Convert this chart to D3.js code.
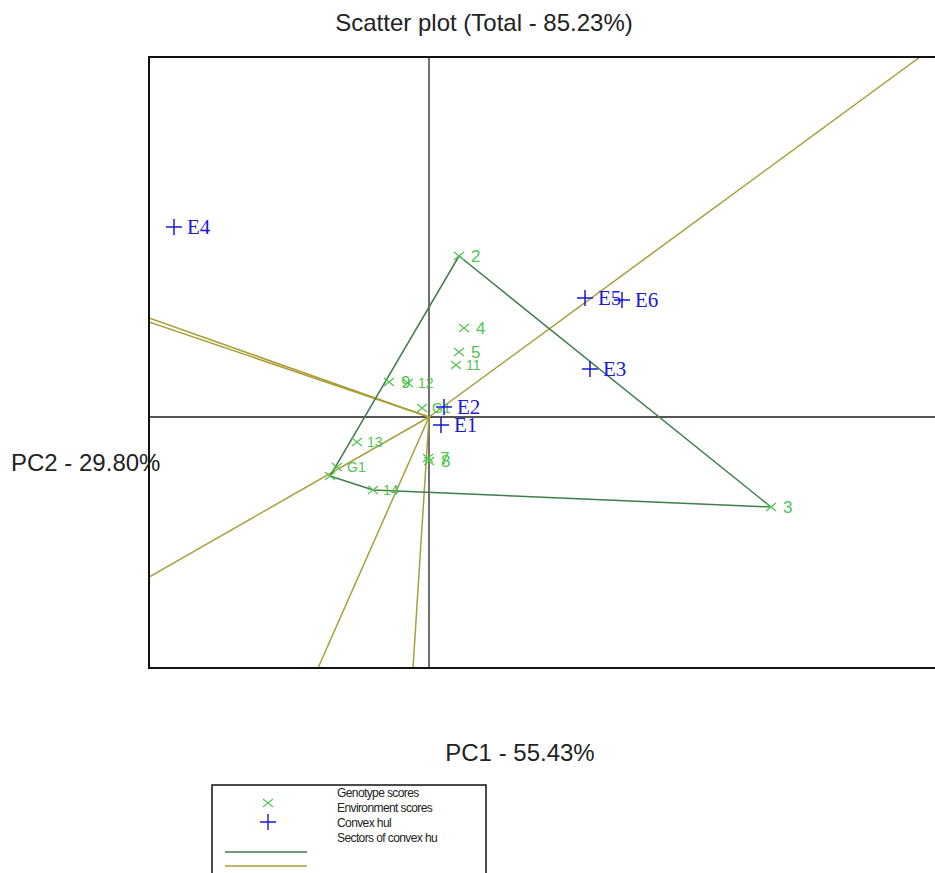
<!DOCTYPE html>
<html>
<head>
<meta charset="utf-8">
<script src="https://cdn.jsdelivr.net/npm/d3@7"></script>
<style>
  body { margin: 0; background: #fff; }
</style>
</head>
<body>
<svg id="chart"></svg>
<script>
// genotype scores (PC1, PC2)
const genoNames = ["2", "3", "4", "5", "11", "9", "12", "G1", "13", "G1", "", "14", "7", "8"];
const genoPC1 = [0.30, 3.42, 0.35, 0.30, 0.27, -0.40, -0.21, -0.07, -0.72, -0.92, -0.99, -0.56, -0.01, 0.00];
const genoPC2 = [1.61, -0.90, 0.89, 0.65, 0.52, 0.35, 0.34, 0.09, -0.25, -0.50, -0.59, -0.73, -0.41, -0.44];

// environment scores
const envNames = ["E4", "E5", "E6", "E3", "E2", "E1"];
const envPC1 = [-2.55, 1.56, 1.93, 1.61, 0.15, 0.12];
const envPC2 = [1.90, 1.19, 1.17, 0.48, 0.10, -0.08];

// convex hull vertices (index into genotypes, in order)
const hullIdx = [0, 1, 11, 10];

// sector rays from origin, end points
const rayPC1 = [4.91, -2.80, -2.80, -2.80, -1.11, -0.16];
const rayPC2 = [3.60, 0.99, 0.95, -1.60, -2.51, -2.51];

const legendLabels = ["Genotype scores", "Environment scores", "Convex hul", "Sectors of convex hu"];

const width = 935, height = 873;
const svg = d3.select("#chart").attr("width", width).attr("height", height);

const plot = { left: 149, top: 57, right: 949, bottom: 668 };
const x = d3.scaleLinear().domain([-2.8, 5.2]).range([plot.left, plot.right]);
const y = d3.scaleLinear().domain([-2.51, 3.6]).range([plot.bottom, plot.top]);

const green = "#52c452";
const blue = "#1a1ad0";
const hullColor = "#3f7f4a";
const sectorColor = "#aa9d3a";
const font = "Arial, 'Liberation Sans', sans-serif";

svg.append("defs").append("clipPath").attr("id", "clip")
  .append("rect")
  .attr("x", plot.left).attr("y", plot.top)
  .attr("width", plot.right - plot.left).attr("height", plot.bottom - plot.top);

const g = svg.append("g").attr("clip-path", "url(#clip)");

// origin lines
g.append("line")
  .attr("x1", plot.left).attr("x2", plot.right)
  .attr("y1", y(0)).attr("y2", y(0))
  .attr("stroke", "#555").attr("stroke-width", 1.8);
g.append("line")
  .attr("x1", x(0)).attr("x2", x(0))
  .attr("y1", plot.top).attr("y2", plot.bottom)
  .attr("stroke", "#111").attr("stroke-width", 1.2);

// sectors
g.append("g").selectAll("line")
  .data(rayPC1.map((v, i) => [v, rayPC2[i]]))
  .join("line")
  .attr("x1", x(0)).attr("y1", y(0))
  .attr("x2", d => x(d[0])).attr("y2", d => y(d[1]))
  .attr("stroke", sectorColor).attr("stroke-width", 1.5);

// convex hull
const hullPts = hullIdx.map(i => [x(genoPC1[i]), y(genoPC2[i])]);
g.append("path")
  .attr("d", d3.line()(hullPts) + "Z")
  .attr("fill", "none")
  .attr("stroke", hullColor).attr("stroke-width", 1.5);

// genotypes
const geno = g.append("g").selectAll("g")
  .data(genoNames.map((n, i) => ({ name: n, px: x(genoPC1[i]), py: y(genoPC2[i]) })))
  .join("g");
geno.append("path")
  .attr("d", d => `M${d.px - 5},${d.py - 4}L${d.px + 5},${d.py + 4}M${d.px - 5},${d.py + 4}L${d.px + 5},${d.py - 4}`)
  .attr("stroke", green).attr("stroke-width", 1.3);
geno.append("text")
  .attr("x", d => d.px + (d.name.length > 1 ? 10 : 12))
  .attr("y", d => d.py)
  .attr("dy", "0.35em")
  .attr("fill", green)
  .style("font-family", font)
  .style("font-size", d => d.name.length > 1 ? "14px" : "17px")
  .text(d => d.name);

// environments
const env = g.append("g").selectAll("g")
  .data(envNames.map((n, i) => ({ name: n, px: x(envPC1[i]), py: y(envPC2[i]) })))
  .join("g");
env.append("path")
  .attr("d", d => `M${d.px - 8},${d.py}L${d.px + 8},${d.py}M${d.px},${d.py - 8}L${d.px},${d.py + 8}`)
  .attr("stroke", blue).attr("stroke-width", 1.5);
env.append("text")
  .attr("x", d => d.px + 13)
  .attr("y", d => d.py)
  .attr("dy", "0.33em")
  .attr("fill", blue)
  .style("font-family", "'Liberation Serif', 'DejaVu Serif', serif")
  .style("font-size", "21px")
  .text(d => d.name);

// frame (right side runs off the page)
svg.append("path")
  .attr("d", `M${plot.right},${plot.top}H${plot.left}V${plot.bottom}H${plot.right}`)
  .attr("fill", "none").attr("stroke", "#111").attr("stroke-width", 2);

// titles
svg.append("text")
  .attr("x", 484).attr("y", 31)
  .attr("text-anchor", "middle")
  .style("font-family", font).style("font-size", "24px").attr("fill", "#222")
  .text("Scatter plot (Total - 85.23%)");
svg.append("text")
  .attr("x", 11).attr("y", 471)
  .style("font-family", font).style("font-size", "24px").attr("fill", "#222")
  .text("PC2 - 29.80%");
svg.append("text")
  .attr("x", 520).attr("y", 761)
  .attr("text-anchor", "middle")
  .style("font-family", font).style("font-size", "24px").attr("fill", "#222")
  .text("PC1 - 55.43%");

// legend
const lg = svg.append("g");
lg.append("rect")
  .attr("x", 212).attr("y", 785).attr("width", 274).attr("height", 100)
  .attr("fill", "none").attr("stroke", "#111").attr("stroke-width", 1.5);
lg.append("path")
  .attr("d", "M263,799L273,807M263,807L273,799")
  .attr("stroke", green).attr("stroke-width", 1.2);
lg.append("path")
  .attr("d", "M260,822H276M268,814V830")
  .attr("stroke", blue).attr("stroke-width", 1.4);
lg.append("line")
  .attr("x1", 225).attr("x2", 307).attr("y1", 852).attr("y2", 852)
  .attr("stroke", hullColor).attr("stroke-width", 1.5);
lg.append("line")
  .attr("x1", 225).attr("x2", 307).attr("y1", 866).attr("y2", 866)
  .attr("stroke", sectorColor).attr("stroke-width", 1.5);
lg.selectAll("text.lab")
  .data(legendLabels)
  .join("text")
  .attr("class", "lab")
  .attr("x", 337)
  .attr("y", (d, i) => 797 + i * 15)
  .style("font-family", font).style("font-size", "12px")
  .style("letter-spacing", "-0.6px")
  .attr("fill", "#222")
  .text(d => d);
</script>
</body>
</html>
